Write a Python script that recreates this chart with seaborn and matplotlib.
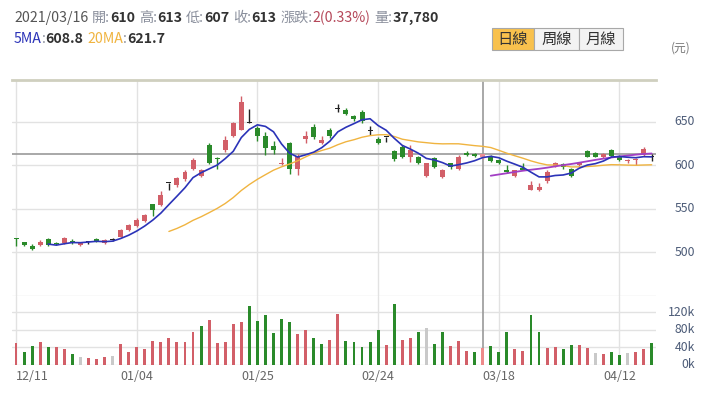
import numpy as np
import pandas as pd
import matplotlib
matplotlib.use("Agg")
import matplotlib.pyplot as plt
import seaborn as sns
from matplotlib.patches import Rectangle
from matplotlib.transforms import blended_transform_factory

# ---------------- data ----------------
dates = [
    "2020/12/11", "2020/12/14", "2020/12/15", "2020/12/16", "2020/12/17", "2020/12/18",
    "2020/12/21", "2020/12/22", "2020/12/23", "2020/12/24", "2020/12/25", "2020/12/28",
    "2020/12/29", "2020/12/30", "2020/12/31",
    "2021/01/04", "2021/01/05", "2021/01/06", "2021/01/07", "2021/01/08", "2021/01/11",
    "2021/01/12", "2021/01/13", "2021/01/14", "2021/01/15", "2021/01/18", "2021/01/19",
    "2021/01/20", "2021/01/21", "2021/01/22",
    "2021/01/25", "2021/01/26", "2021/01/27", "2021/01/28", "2021/01/29", "2021/02/01",
    "2021/02/02", "2021/02/03", "2021/02/04", "2021/02/05",
    "2021/02/17", "2021/02/18", "2021/02/19", "2021/02/22", "2021/02/23",
    "2021/02/24", "2021/02/25", "2021/02/26", "2021/03/02", "2021/03/03", "2021/03/04",
    "2021/03/05", "2021/03/08", "2021/03/09", "2021/03/10", "2021/03/11", "2021/03/12",
    "2021/03/15", "2021/03/16", "2021/03/17",
    "2021/03/18", "2021/03/19", "2021/03/22", "2021/03/23", "2021/03/24", "2021/03/25",
    "2021/03/26", "2021/03/29", "2021/03/30", "2021/03/31", "2021/04/01", "2021/04/06",
    "2021/04/07", "2021/04/08", "2021/04/09",
    "2021/04/12", "2021/04/13", "2021/04/14", "2021/04/15", "2021/04/16",
]
opens = [516, 512, 507, 508, 515, 511, 511, 513, 508, 512, 515, 511, 514, 518, 526,
         530, 536, 555, 554, 580, 577, 584, 596, 588, 623, 608, 617, 634, 641, 649,
         643, 633, 622, 601, 625, 596, 630, 644, 626, 641, 665, 664, 657, 661, 639,
         630, 632, 616, 621, 609, 609, 588, 608, 587, 602, 596, 614, 613, 610, 611,
         606, 595, 588, 597, 572, 571, 582, 599, 601, 596, 600, 616, 614, 609, 618,
         611, 605, 606, 612, 610]
highs = [516, 512, 510, 514, 516, 512, 518, 515, 512, 513, 516, 515, 516, 527, 532,
         539, 544, 556, 570, 580, 587, 595, 608, 596, 626, 609, 633, 650, 679, 665,
         645, 638, 628, 608, 627, 613, 639, 647, 633, 643, 670, 666, 658, 663, 645,
         632, 632, 618, 623, 623, 611, 603, 610, 596, 603, 612, 616, 614, 613, 612,
         607, 600, 595, 603, 582, 580, 594, 604, 603, 597, 604, 617, 615, 614, 619,
         612, 607, 608, 621, 613]
lows = [507, 507, 503, 507, 507, 508, 510, 509, 507, 510, 512, 510, 513, 517, 525,
        529, 535, 542, 553, 572, 575, 582, 594, 587, 601, 596, 615, 632, 640, 648,
        628, 612, 613, 600, 590, 589, 626, 630, 624, 631, 661, 658, 651, 649, 635,
        624, 627, 605, 608, 604, 601, 586, 597, 585, 596, 595, 611, 610, 607, 604,
        601, 591, 587, 594, 571, 570, 580, 598, 596, 587, 599, 609, 609, 608, 610,
        605, 603, 600, 611, 605]
closes = [515, 508, 504, 512, 508, 509, 516, 511, 511, 512, 513, 514, 514, 526, 531,
          537, 543, 548, 566, 580, 585, 592, 606, 594, 602, 607, 629, 648, 673, 649,
          633, 620, 617, 603, 596, 611, 633, 632, 629, 633, 665, 659, 653, 651, 639,
          626, 632, 607, 610, 618, 602, 602, 598, 595, 598, 610, 612, 611, 613, 605,
          602, 592, 594, 595, 577, 575, 592, 602, 598, 588, 603, 610, 610, 613, 611,
          606, 606, 607, 619, 610]
volumes = [49000, 29000, 42000, 52000, 40000, 40000, 35000, 25000, 18000, 16000,
           13000, 18000, 20000, 47000, 30000, 40000, 35000, 55000, 52000, 62000,
           52000, 52000, 75000, 89000, 102000, 49000, 52000, 94000, 97000, 134000,
           99000, 114000, 72000, 105000, 97000, 70000, 80000, 60000, 47000, 57000,
           117000, 55000, 52000, 40000, 52000, 79000, 45000, 139000, 57000, 60000,
           75000, 85000, 47000, 75000, 42000, 55000, 32000, 29000, 37780, 42000,
           30000, 75000, 35000, 32000, 114000, 75000, 38000, 40000, 35000, 45000,
           45000, 38000, 27000, 25000, 29000, 22000, 27000, 29000, 35000, 49000]
prev_close_before_first = 512
selected_date = "2021/03/16"
tick_dates = ["2020/12/11", "2021/01/04", "2021/01/25", "2021/02/24", "2021/03/18", "2021/04/12"]
price_ticks = [500, 550, 600, 650]
price_grid = [450, 500, 550, 600, 650]
volume_ticks = [0, 40000, 80000, 120000]
volume_tick_labels = ["0k", "40k", "80k", "120k"]
period_buttons = ["日線", "周線", "月線"]
unit_label = "(元)"

# ---------------- styling ----------------
sns.set_style("white")
plt.rcParams["font.family"] = ["Noto Sans CJK TC", "DejaVu Sans"]

RED = "#d25f68"
GREEN = "#2a8a2a"
BLACK = "#222222"
GRAY_VOL = "#c9c9c9"
GRID = "#e2e2e2"
AXIS_TXT = "#4d5c78"
MA5_C = "#2b33b8"
MA20_C = "#f0b440"
MA60_C = "#a23fc4"

W, H = 720, 399
fig = plt.figure(figsize=(W / 100, H / 100), dpi=100)


def fx(px):
    return px / W


def fy(py):
    return 1 - py / H


X0, X1 = 12.0, 655.7
P_TOP, P_BOT = 80.0, 295.8
V_TOP, V_BOT = 296.0, 364.7
ax = fig.add_axes([fx(X0), fy(P_BOT), (X1 - X0) / W, (P_BOT - P_TOP) / H])
axv = fig.add_axes([fx(X0), fy(V_BOT), (X1 - X0) / W, (V_BOT - V_TOP) / H])

df = pd.DataFrame(dict(date=dates, open=opens, high=highs, low=lows,
                       close=closes, volume=volumes))
df["i"] = np.arange(len(df))
df["ma5"] = df["close"].rolling(5).mean()
df["ma20"] = df["close"].rolling(20).mean()
df["ma60"] = df["close"].rolling(60).mean()
prev = df["close"].shift(1).fillna(prev_close_before_first)
df["dir"] = np.where(df["close"] > prev, "up", np.where(df["close"] < prev, "down", "flat"))
sel = dates.index(selected_date)
df["vcat"] = df["dir"]
df.loc[sel, "vcat"] = df.loc[sel, "dir"] + "_sel"

n = len(df)
xlim = (-0.5, n - 0.5)

# ---------------- price panel ----------------
for g in price_grid:
    ax.axhline(g, color=GRID, lw=1.0, zorder=0)
tick_idx = [dates.index(d) for d in tick_dates]
for t in tick_idx:
    ax.axvline(t, color=GRID, lw=1.0, zorder=0)
    axv.axvline(t, color=GRID, lw=1.0, zorder=0)

o = df["open"].values
c = df["close"].values
cand_col = np.where(c > o, RED, np.where(c < o, GREEN, BLACK)).astype(object)
cand_col[sel] = "#ec8e95"
ax.vlines(df["i"], df["low"], df["high"], colors=cand_col, lw=1.0, zorder=3)
body_bottom = np.minimum(o, c)
body_h = np.maximum(np.abs(c - o), 1.1)
ax.bar(df["i"], body_h, bottom=body_bottom, width=0.62, color=cand_col, zorder=3, linewidth=0)

sns.lineplot(data=df, x="i", y="ma20", color=MA20_C, lw=1.0, ax=ax, zorder=4)
sns.lineplot(data=df, x="i", y="ma60", color=MA60_C, lw=1.3, ax=ax, zorder=4)
sns.lineplot(data=df, x="i", y="ma5", color=MA5_C, lw=1.2, ax=ax, zorder=5)

# crosshair
ax.axhline(df.loc[sel, "close"], color="#9a9a9a", lw=1.2, zorder=2)
ax.axvline(sel, color="#9a9a9a", lw=1.2, zorder=2)
axv.axvline(sel, color="#9a9a9a", lw=1.2, zorder=1)

ax.set_xlim(*xlim)
ax.set_ylim(450, 697.9)
ax.set_xticks([])
ax.set_yticks([])
ax.set_xlabel("")
ax.set_ylabel("")
for s in ["left", "right", "bottom"]:
    ax.spines[s].set_visible(False)
ax.spines["top"].set_color("#cfcfbf")
ax.spines["top"].set_linewidth(2.0)

# ---------------- volume panel ----------------
for g in volume_ticks:
    axv.axhline(g, color=GRID, lw=1.0, zorder=0)
vpal = {"up": RED, "down": GREEN, "flat": GRAY_VOL,
        "up_sel": "#ee8a8a", "down_sel": "#6cbf6c", "flat_sel": "#dddddd"}
sns.barplot(data=df, x="i", y="volume", hue="vcat", palette=vpal, native_scale=True,
            width=0.36, dodge=False, legend=False, saturation=1, ax=axv, zorder=2,
            linewidth=0)
axv.set_xlim(*xlim)
axv.set_ylim(0, 157300)
axv.set_xticks([])
axv.set_yticks([])
axv.set_xlabel("")
axv.set_ylabel("")
for s in ["left", "right", "bottom", "top"]:
    axv.spines[s].set_visible(False)

# ---------------- axis labels ----------------
tr_p = blended_transform_factory(fig.transFigure, ax.transData)
for p in price_ticks:
    fig.text(fx(695), p, str(p), transform=tr_p, ha="right", va="center",
             fontsize=8.8, color=AXIS_TXT)
tr_v = blended_transform_factory(fig.transFigure, axv.transData)
for v, lab in zip(volume_ticks, volume_tick_labels):
    fig.text(fx(695), v, lab, transform=tr_v, ha="right", va="center",
             fontsize=8.8, color=AXIS_TXT)

tr_x = blended_transform_factory(axv.transData, fig.transFigure)
for k, t in enumerate(tick_idx):
    lab = dates[t][5:]
    if k == 0:
        fig.text(fx(16), fy(376), lab, ha="left", va="center", fontsize=9, color="#666666")
    else:
        fig.text(t, fy(376), lab, transform=tr_x, ha="center", va="center",
                 fontsize=9, color="#666666")

fig.text(fx(681), fy(48), unit_label, ha="center", va="center", fontsize=8.5, color="#777777")

# ---------------- header ----------------
fig.canvas.draw()
renderer = fig.canvas.get_renderer()


def runs(x_px, y_px, pieces, size):
    x = x_px
    for s, col, wt, gap in pieces:
        t = fig.text(x / W, fy(y_px), s, color=col, fontsize=size, fontweight=wt,
                     ha="left", va="center")
        bb = t.get_window_extent(renderer)
        x = bb.x1 + gap


LAB = "#8a8f9c"
VAL = "#333333"
srow = df.loc[sel]
chg = srow["close"] - prev[sel]
pct = chg / prev[sel] * 100
line1 = [
    (selected_date, "#555555", "normal", 4),
    ("開:", LAB, "normal", 0), (f"{srow['open']:.0f}", VAL, "bold", 4),
    ("高:", LAB, "normal", 0), (f"{srow['high']:.0f}", VAL, "bold", 4),
    ("低:", LAB, "normal", 0), (f"{srow['low']:.0f}", VAL, "bold", 4),
    ("收:", LAB, "normal", 0), (f"{srow['close']:.0f}", VAL, "bold", 4),
    ("漲跌:", LAB, "normal", 0), (f"{chg:.0f}({pct:.2f}%)", "#b5485a", "normal", 4),
    ("量:", LAB, "normal", 0), (f"{srow['volume']:,.0f}", VAL, "bold", 0),
]
runs(14, 18, line1, 10.2)
line2 = [
    ("5MA", MA5_C, "normal", 0), (":", LAB, "normal", 0),
    (f"{srow['ma5']:.1f}", VAL, "bold", 4),
    ("20MA", MA20_C, "normal", 0), (":", LAB, "normal", 0),
    (f"{srow['ma20']:.1f}", VAL, "bold", 0),
]
runs(14, 39, line2, 10.2)

# period buttons
edges = [492, 534, 579, 623]
for k, lab in enumerate(period_buttons):
    x0, x1b = edges[k], edges[k + 1]
    face = "#f8c14d" if k == 0 else "#f3f3f3"
    fig.patches.append(Rectangle((fx(x0), fy(50)), (x1b - x0) / W, 21.5 / H,
                                 transform=fig.transFigure, facecolor=face,
                                 edgecolor="#a8a8a8", lw=0.8))
    fig.text(fx((x0 + x1b) / 2), fy(39.3), lab, ha="center", va="center",
             fontsize=11, color="#333333")

fig.savefig("out.png", dpi=100)
